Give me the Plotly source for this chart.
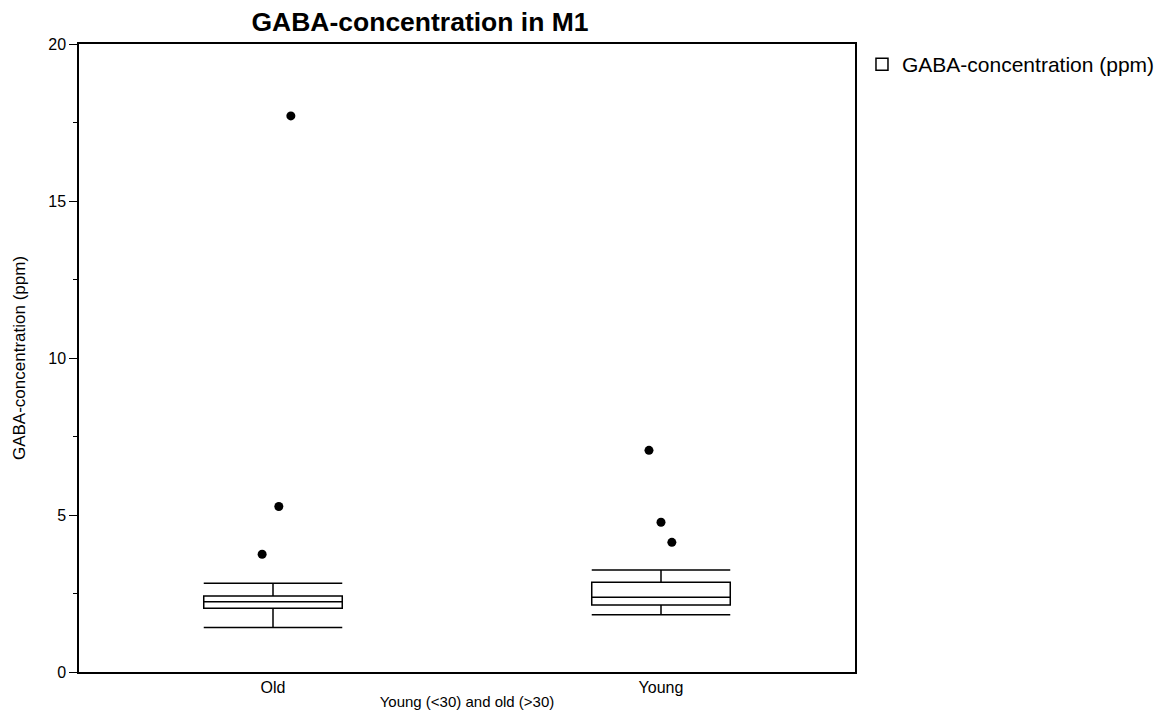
import plotly.graph_objects as go

# Groups and precomputed box statistics (ppm)
groups = ["Old", "Young"]
q1 = [2.03, 2.13]
median = [2.24, 2.38]
q3 = [2.42, 2.86]
lower_whisker = [1.42, 1.82]
upper_whisker = [2.83, 3.25]

# Outlying measurements per group
outlier_group = [0, 0, 0, 1, 1, 1]
outlier_values = [3.75, 5.27, 17.71, 7.06, 4.77, 4.13]
# horizontal spread of outlier dots around the group centre
outlier_jitter = [-0.028, 0.015, 0.046, -0.031, 0.0, 0.028]

y_ticks = [0, 5, 10, 15, 20]

FONT = "Liberation Sans"
group_pos = list(range(len(groups)))

fig = go.Figure()

fig.add_trace(go.Box(
    x=group_pos,
    q1=q1,
    median=median,
    q3=q3,
    lowerfence=lower_whisker,
    upperfence=upper_whisker,
    name="GABA-concentration (ppm)",
    boxpoints=False,
    width=0.357,
    whiskerwidth=1,
    fillcolor="white",
    line=dict(color="black", width=1.5),
    showlegend=True,
))

fig.add_trace(go.Scatter(
    x=[group_pos[g] + j for g, j in zip(outlier_group, outlier_jitter)],
    y=outlier_values,
    mode="markers",
    marker=dict(color="black", size=9),
    showlegend=False,
    hoverinfo="y",
))

fig.update_layout(
    width=1159,
    height=715,
    margin=dict(l=79, r=304, t=44, b=43, autoexpand=False),
    paper_bgcolor="white",
    plot_bgcolor="white",
    font=dict(family=FONT, color="black", size=15),
    title=dict(
        text="<b>GABA-concentration in M1</b>",
        x=420 / 1159,
        xanchor="center",
        y=1 - 22 / 715,
        yanchor="middle",
        font=dict(size=26.5, family=FONT, color="black"),
    ),
    legend=dict(
        x=1.009,
        xanchor="left",
        y=1.0,
        yanchor="top",
        font=dict(size=21, family=FONT, color="black"),
        bgcolor="rgba(0,0,0,0)",
    ),
    xaxis=dict(
        range=[-0.5, 1.5],
        tickvals=group_pos,
        ticktext=groups,
        ticks="",
        showgrid=False,
        zeroline=False,
        showline=True,
        linecolor="black",
        linewidth=1.5,
        mirror=True,
        automargin=False,
        tickfont=dict(size=16),
        title=dict(text="Young (<30) and old (>30)", font=dict(size=15), standoff=2),
    ),
    yaxis=dict(
        range=[0, 20],
        tickvals=y_ticks,
        ticks="outside",
        ticklen=8,
        tickwidth=1,
        tickcolor="black",
        minor=dict(dtick=2.5, ticks="outside", ticklen=4, tickcolor="black", tickwidth=1, showgrid=False),
        showgrid=False,
        zeroline=False,
        showline=True,
        linecolor="black",
        linewidth=1.5,
        mirror=True,
        automargin=False,
        tickfont=dict(size=16),
        title=dict(text="GABA-concentration (ppm)", font=dict(size=17), standoff=18),
    ),
)

fig.write_html("out.html")
